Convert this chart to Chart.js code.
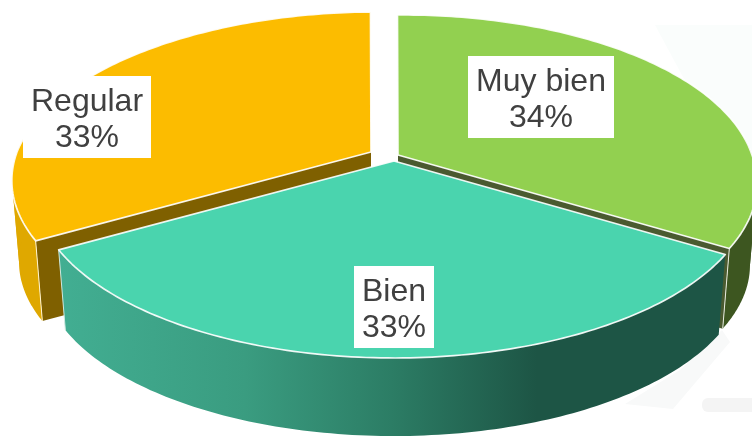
<!DOCTYPE html>
<html>
<head>
<meta charset="utf-8">
<style>html,body{margin:0;padding:0;background:#fff}canvas{display:block}</style>
<script src="https://cdn.jsdelivr.net/npm/chart.js@4/dist/chart.umd.min.js"></script>
</head>
<body>
<canvas id="c" width="752" height="440"></canvas>
<script>
const categories = ['Muy bien', 'Bien', 'Regular'];
const percents = [34, 33, 33];
const topColors = ['#92d050', '#4ad4ae', '#fcbc00'];

/* view of the tilted pie */
const view = { a: 354, b: 163.7, k: 0.169, depth: 82, shrink: 0.98, skew: -0.034 };
const apexes = [{x: 398, y: 155}, {x: 394, y: 161}, {x: 371, y: 152}];
const boxes = [[468, 56, 146, 82], [354, 266, 80, 82], [23, 76, 128, 82]];
const drawOrder = [2, 0, 1];

function project(apex, theta, low) {
  const u = Math.sin(theta), v = -Math.cos(theta);
  const den = 1 - view.k * v, s = low ? view.shrink : 1;
  const dy = view.b * v / den;
  const lean = dy < 0 ? view.skew * dy : 0;
  return [apex.x + (view.a * u / den + lean) * s, apex.y + dy * s + (low ? view.depth : 0)];
}
function arcPoints(apex, t0, t1, low) {
  const pts = [], n = 120;
  for (let i = 0; i <= n; i++) pts.push(project(apex, t0 + (t1 - t0) * i / n, low));
  return pts;
}
function fillPoly(ctx, pts, fill) {
  ctx.beginPath();
  pts.forEach((p, i) => i ? ctx.lineTo(p[0], p[1]) : ctx.moveTo(p[0], p[1]));
  ctx.closePath();
  ctx.fillStyle = fill;
  ctx.fill();
}
function segment(ctx, a, b, color, w) {
  ctx.beginPath(); ctx.moveTo(a[0], a[1]); ctx.lineTo(b[0], b[1]);
  ctx.strokeStyle = color; ctx.lineWidth = w; ctx.stroke();
}
/* outer wall: front part of the rim, split where the rim turns back sideways */
function drawWall(ctx, apex, t0, t1, fill) {
  const right = Math.acos(-view.k), left = 2 * Math.PI - right;
  const backLimit = Math.acos(0.1);
  let a = Math.max(t0, backLimit), b = Math.min(t1, 2 * Math.PI - backLimit);
  const stops = [a];
  [right, left].forEach(t => { if (t > a && t < b) stops.push(t); });
  stops.push(b);
  for (let i = 0; i + 1 < stops.length; i++) {
    const top = arcPoints(apex, stops[i], stops[i + 1], false);
    const low = arcPoints(apex, stops[i], stops[i + 1], true);
    fillPoly(ctx, top.concat(low.reverse()), fill);
  }
}

const backdrop = {
  id: 'backdrop',
  beforeDraw(chart) {
    const ctx = chart.ctx;
    ctx.save();
    fillPoly(ctx, [[655, 25], [752, 25], [752, 200], [690, 90]], '#fafdfc');
    fillPoly(ctx, [[625, 404], [673, 409], [730, 342], [722, 330], [680, 370]], '#f8f9f9');
    ctx.beginPath();
    ctx.roundRect(702, 398, 60, 14, 6);
    ctx.fillStyle = '#f4f4f4';
    ctx.fill();
    ctx.restore();
  },
  afterDraw(chart) {
    const ctx = chart.ctx;
    ctx.save();
    ctx.font = '32px "Liberation Sans", Arial, sans-serif';
    ctx.textAlign = 'center';
    ctx.textBaseline = 'alphabetic';
    chart.data.labels.forEach((name, i) => {
      const [x, y, w, h] = boxes[i];
      ctx.fillStyle = '#ffffff';
      ctx.fillRect(x, y, w, h);
      ctx.fillStyle = '#404040';
      ctx.fillText(name, x + w / 2, y + 35);
      ctx.fillText(chart.data.datasets[0].data[i] + '%', x + w / 2, y + 71);
    });
    ctx.restore();
  }
};

const tiltedPie = {
  id: 'tiltedPie',
  beforeDatasetsDraw(chart) {
    const ctx = chart.ctx, arcs = chart.getDatasetMeta(0).data;
    const bienWall = ctx.createLinearGradient(60, 0, 722, 0);
    bienWall.addColorStop(0, '#42ae92');
    bienWall.addColorStop(0.28, '#3a9c80');
    bienWall.addColorStop(0.5, '#2c7d65');
    bienWall.addColorStop(0.72, '#1d5545');
    bienWall.addColorStop(1, '#1d5545');
    const wallFill = ['#3d5620', bienWall, '#dfa800'];
    const cutFill = ['#4a5a30', null, '#7f6000'];
    ctx.save();
    drawOrder.forEach(i => {
      const arc = arcs[i], apex = apexes[i];
      const t0 = arc.startAngle + Math.PI / 2, t1 = arc.endAngle + Math.PI / 2;
      const top = arcPoints(apex, t0, t1, false), low = arcPoints(apex, t0, t1, true);
      const lowApex = [apex.x, apex.y + view.depth];
      if (i === 2) fillPoly(ctx, [[apex.x, apex.y], top[0], low[0], lowApex], cutFill[2]);
      if (i === 0) fillPoly(ctx, [[apex.x, apex.y], top[top.length - 1], low[low.length - 1], lowApex], cutFill[0]);
      drawWall(ctx, apex, t0, t1, wallFill[i]);
      if (i === 2) segment(ctx, top[0], low[0], '#fff3cf', 1);
      if (i === 0) segment(ctx, top[top.length - 1], low[low.length - 1], '#e8ecdf', 1);
      if (i === 1) segment(ctx, top[top.length - 1], low[low.length - 1], '#cfe9e1', 1);
      const face = [[apex.x, apex.y]].concat(top);
      fillPoly(ctx, face, topColors[i]);
      ctx.beginPath();
      face.forEach((p, j) => j ? ctx.lineTo(p[0], p[1]) : ctx.moveTo(p[0], p[1]));
      ctx.closePath();
      ctx.strokeStyle = 'rgba(255,255,255,0.9)';
      ctx.lineWidth = 1.7;
      ctx.lineJoin = 'round';
      ctx.stroke();
    });
    ctx.restore();
    return false;
  }
};

new Chart(document.getElementById('c'), {
  type: 'pie',
  data: {
    labels: categories,
    datasets: [{ data: percents, backgroundColor: topColors, borderWidth: 0 }]
  },
  options: {
    responsive: false,
    animation: false,
    rotation: -1,
    plugins: { legend: { display: false }, tooltip: { enabled: false } }
  },
  plugins: [backdrop, tiltedPie]
});
</script>
</body>
</html>
